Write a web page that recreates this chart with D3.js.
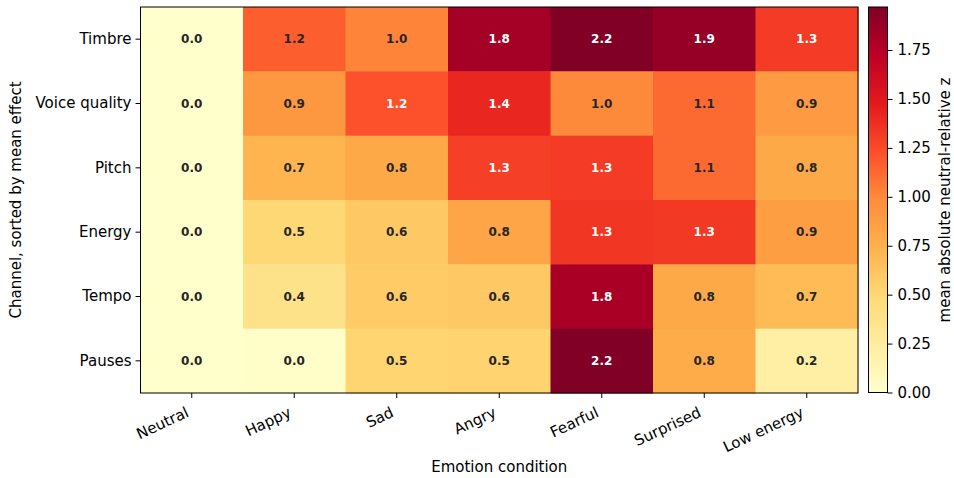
<!DOCTYPE html>
<html>
<head>
<meta charset="utf-8">
<script src="https://cdnjs.cloudflare.com/ajax/libs/d3/7.8.5/d3.min.js"></script>
<style>
	body { margin: 0; background: #fff; }
	text { font-family: "DejaVu Sans", sans-serif; }
</style>
</head>
<body>
<svg id="chart" width="954" height="478"></svg>
<script>
var emotions = ['Neutral', 'Happy', 'Sad', 'Angry', 'Fearful', 'Surprised', 'Low energy'];
var channels = ['Timbre', 'Voice quality', 'Pitch', 'Energy', 'Tempo', 'Pauses'];

// one row per channel, columns follow emotions
var timbreVals = [0.0, 1.17, 1.02, 1.82, 2.2, 1.88, 1.32];
var voiceVals = [0.0, 0.92, 1.22, 1.42, 1.0, 1.12, 0.9];
var pitchVals = [0.0, 0.72, 0.8, 1.3, 1.32, 1.12, 0.8];
var energyVals = [0.0, 0.5, 0.6, 0.82, 1.34, 1.33, 0.87];
var tempoVals = [0.0, 0.38, 0.58, 0.6, 1.8, 0.8, 0.68];
var pausesVals = [0.0, 0.02, 0.52, 0.53, 2.2, 0.78, 0.22];

var colorbarTicks = [0.0, 0.25, 0.5, 0.75, 1.0, 1.25, 1.5, 1.75];
var vmax = 1.97;

// matplotlib YlOrRd
var ylOrRd = ['#ffffcc', '#ffeda0', '#fed976', '#feb24c', '#fd8d3c', '#fc4e2a', '#e31a1c', '#bd0026', '#800026'];

var svg = d3.select('#chart');
var plotLeft = 140.5, plotRight = 858, plotTop = 7, plotBottom = 393;

var x = d3.scaleBand().domain(emotions).range([plotLeft, plotRight]);
var y = d3.scaleBand().domain(channels).range([plotTop, plotBottom]);

var color = d3.scaleLinear()
	.domain(d3.range(ylOrRd.length).map(function(i) { return i * vmax / (ylOrRd.length - 1); }))
	.range(ylOrRd)
	.interpolate(d3.interpolateRgb)
	.clamp(true);

var rows = [timbreVals, voiceVals, pitchVals, energyVals, tempoVals, pausesVals];
var cells = [];
rows.forEach(function(r, i) {
	r.forEach(function(v, j) {
		cells.push({ channel: channels[i], emotion: emotions[j], value: v });
	});
});

var g = svg.append('g');
g.selectAll('rect')
	.data(cells)
	.enter()
	.append('rect')
	.attr('x', function(d) { return x(d.emotion); })
	.attr('y', function(d) { return y(d.channel); })
	.attr('width', x.bandwidth() + 0.5)
	.attr('height', y.bandwidth() + 0.5)
	.attr('fill', function(d) { return color(d.value); });

g.selectAll('text.cell')
	.data(cells)
	.enter()
	.append('text')
	.attr('class', 'cell')
	.attr('x', function(d) { return x(d.emotion) + x.bandwidth() / 2; })
	.attr('y', function(d) { return y(d.channel) + y.bandwidth() / 2; })
	.attr('dy', '0.36em')
	.attr('text-anchor', 'middle')
	.style('font-size', '12px')
	.style('font-weight', 'bold')
	.style('fill', function(d) { return d.value > 0.6 * vmax ? '#ffffff' : '#262626'; })
	.text(function(d) { return d.value.toFixed(1); });

// frame
svg.append('rect')
	.attr('x', plotLeft).attr('y', plotTop)
	.attr('width', plotRight - plotLeft).attr('height', plotBottom - plotTop)
	.attr('fill', 'none').attr('stroke', '#000').attr('stroke-width', 1);

// x axis
var xAxis = svg.append('g')
	.attr('transform', 'translate(0,' + plotBottom + ')')
	.call(d3.axisBottom(x).tickSizeOuter(0).tickSize(5).tickPadding(5));
xAxis.select('.domain').remove();
xAxis.selectAll('text')
	.style('font-size', '15px')
	.style('fill', '#000')
	.attr('text-anchor', 'end')
	.attr('y', 0).attr('dy', 0)
	.attr('transform', 'translate(-2,23) rotate(-25)');

// y axis
var yAxis = svg.append('g')
	.attr('transform', 'translate(' + plotLeft + ',0)')
	.call(d3.axisLeft(y).tickSizeOuter(0).tickSize(5).tickPadding(4));
yAxis.select('.domain').remove();
yAxis.selectAll('text').style('font-size', '15px').style('fill', '#000');

svg.append('text')
	.attr('x', (plotLeft + plotRight) / 2).attr('y', 472)
	.attr('text-anchor', 'middle')
	.style('font-size', '15px')
	.text('Emotion condition');

svg.append('text')
	.attr('transform', 'translate(21,' + (plotTop + plotBottom) / 2 + ') rotate(-90)')
	.attr('text-anchor', 'middle')
	.style('font-size', '15px')
	.text('Channel, sorted by mean effect');

// colorbar
var cbLeft = 868.5, cbWidth = 19;
var cbY = d3.scaleLinear().domain([0, vmax]).range([plotBottom - 0.5, plotTop]);
var defs = svg.append('defs');
var grad = defs.append('linearGradient')
	.attr('id', 'cbgrad')
	.attr('x1', 0).attr('y1', 1).attr('x2', 0).attr('y2', 0);
grad.selectAll('stop')
	.data(ylOrRd)
	.enter()
	.append('stop')
	.attr('offset', function(d, i) { return i / (ylOrRd.length - 1); })
	.attr('stop-color', function(d) { return d; });

svg.append('rect')
	.attr('x', cbLeft).attr('y', plotTop)
	.attr('width', cbWidth).attr('height', plotBottom - 0.5 - plotTop)
	.attr('fill', 'url(#cbgrad)')
	.attr('stroke', '#000').attr('stroke-width', 1);

var cbAxis = svg.append('g')
	.attr('transform', 'translate(' + (cbLeft + cbWidth) + ',0)')
	.call(d3.axisRight(cbY).tickValues(colorbarTicks).tickFormat(d3.format('.2f')).tickSize(5).tickPadding(5).tickSizeOuter(0));
cbAxis.select('.domain').remove();
cbAxis.selectAll('text').style('font-size', '15px').style('fill', '#000');

svg.append('text')
	.attr('transform', 'translate(945,' + (plotTop + plotBottom) / 2 + ') rotate(-90)')
	.attr('text-anchor', 'middle')
	.attr('dy', '0.35em')
	.style('font-size', '15px')
	.text('mean absolute neutral-relative z');
</script>
</body>
</html>
